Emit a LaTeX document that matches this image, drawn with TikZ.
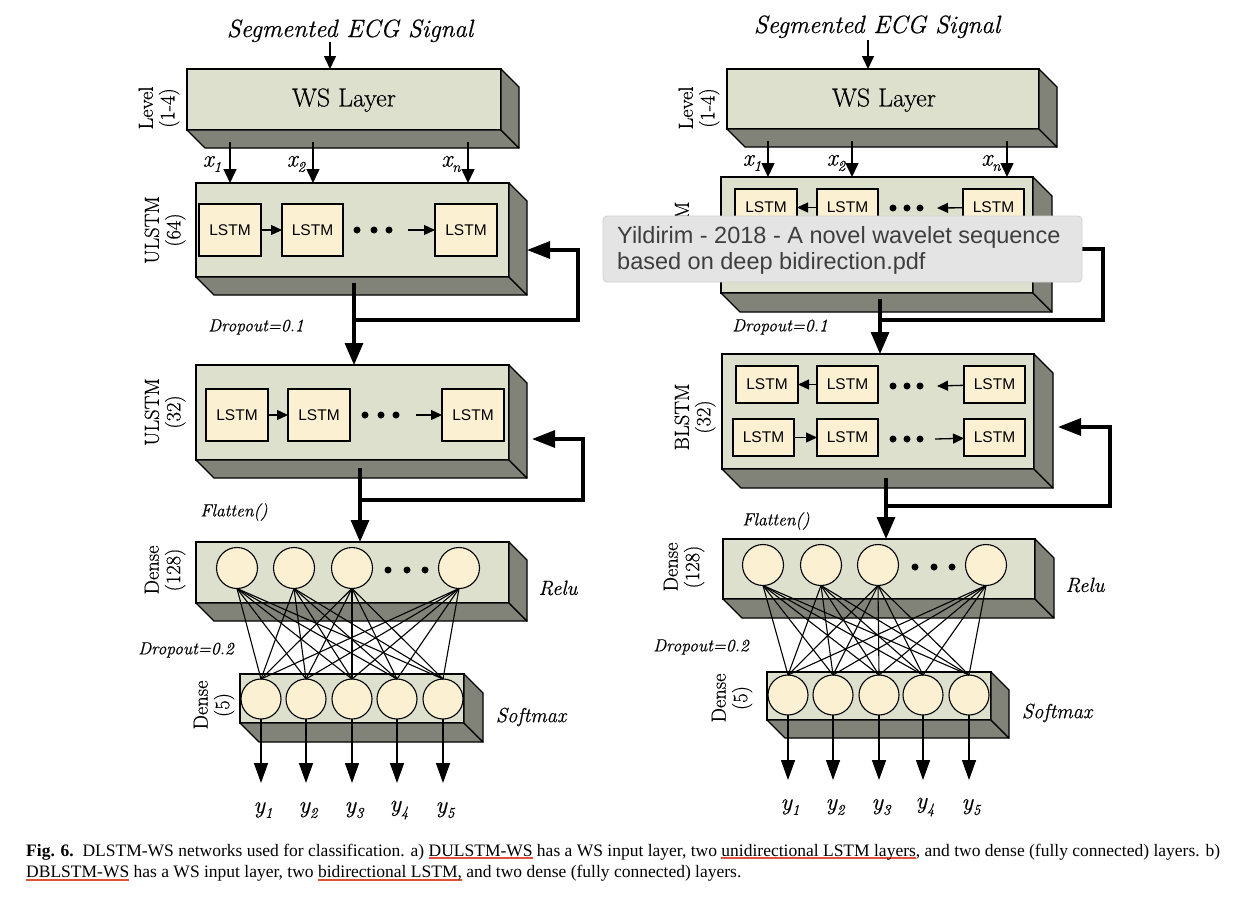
\documentclass[tikz,border=0pt]{standalone}
\usepackage{fontspec}
\setmainfont{Latin Modern Roman}[FakeBold=0.45]
\usetikzlibrary{arrows.meta,calc}
\newfontfamily\sansf{Liberation Sans}
\newfontfamily\capf{Liberation Serif}
\definecolor{frontc}{HTML}{DDE0CC}
\definecolor{sidec}{HTML}{818278}
\definecolor{cream}{HTML}{FCF0D2}
\definecolor{tipfill}{HTML}{E4E4E4}
\definecolor{tipdraw}{HTML}{D2D2D2}
\definecolor{tiptext}{HTML}{3E3E3E}
\definecolor{ulred}{HTML}{E0503C}
\newcommand\ttlf{\itshape\fontsize{25}{30}\selectfont}
\newcommand\bigf{\fontsize{26}{30}\selectfont}
\newcommand\rotf{\fontsize{20.5}{21.5}\selectfont}
\newcommand\itf{\itshape\fontsize{17.5}{20}\selectfont}
\newcommand\actf{\itshape\fontsize{20.5}{24}\selectfont}
\newcommand\xlf{\itshape\fontsize{24}{28}\selectfont}
\newcommand\lstmf{\sansf\fontsize{15.5}{18}\selectfont}
\newcommand\capfs{\capf\fontsize{17.5}{21}\selectfont}
\newcommand\tipf{\sansf\fontsize{23.5}{26}\selectfont}
\newcommand\sbs[1]{\raisebox{-0.22em}{\fontsize{15}{15}\selectfont #1}}
\newcommand\redul[1]{\setbox0=\hbox{#1}\rlap{\textcolor{ulred}{\rule[-3.2pt]{\wd0}{2pt}}}\box0\relax}
\newcommand\layerbox[6]{%
  \node[front, minimum width={#4-#2}, minimum height={#5-#3}] (#1) at ({(#2+#4)/2},{(#3+#5)/2}) {};
  \draw[side] (#1.south west) -- (#1.south east) -- ++(#6,#6) -- ($(#1.south west)+(#6,#6)$) -- cycle;
  \draw[side] (#1.north east) -- ++(#6,#6) -- ($(#1.south east)+(#6,#6)$) -- (#1.south east) -- cycle;
}
\newcommand\lstmbox[5]{%
  \node[lstm, minimum width={#4-#2}, minimum height={#5-#3}] (#1) at ({(#2+#4)/2},{(#3+#5)/2}) {LSTM};
}
\tikzset{
  front/.style={rectangle, draw=black, line width=1.3pt, fill=frontc, inner sep=0pt, outer sep=0pt},
  side/.style={draw=black, line width=1.3pt, fill=sidec, line join=round},
  lstm/.style={rectangle, draw=black, line width=1.1pt, fill=cream, inner sep=0pt, outer sep=0pt, font=\lstmf},
  neuron/.style={circle, draw=black, line width=1.1pt, fill=cream, minimum size=41pt, inner sep=0pt, outer sep=0pt},
  dotn/.style={circle, fill=black, minimum size=7pt, inner sep=0pt},
  inarr/.style={line width=1.5pt, -{Triangle[length=13pt,width=12pt]}},
  xarr/.style={line width=1.5pt, -{Triangle[length=14pt,width=13pt]}},
  sarr/.style={line width=1.3pt, -{Triangle[length=11pt,width=10pt]}},
  fbarr/.style={line width=3.2pt, -{Triangle[length=22pt,width=18pt]}},
  fbline/.style={line width=3.2pt, line join=miter, -{Triangle[length=23pt,width=17pt]}},
  outarr/.style={line width=1.5pt, -{Triangle[length=20pt,width=14pt]}},
  conn/.style={line width=1.1pt},
  ttl/.style={font=\ttlf, inner sep=0pt},
  big/.style={font=\bigf, inner sep=0pt},
  rotlab/.style={font=\rotf, rotate=90, align=center, inner sep=0pt},
  itl/.style={font=\itf, inner sep=0pt},
  act/.style={font=\actf, inner sep=0pt},
  xl/.style={font=\xlf, inner sep=0pt},
  captext/.style={font=\capfs, inner sep=0pt, anchor=base west},
  tipbox/.style={rectangle, draw=tipdraw, line width=0.8pt, fill=tipfill, rounded corners=4pt, inner sep=0pt},
  tiptxt/.style={font=\tipf, text=tiptext, inner sep=0pt, anchor=base west}
}
\begin{document}
\begin{tikzpicture}[x=1pt,y=-1pt]
\fill[white] (0,0) rectangle (1246,900);
\useasboundingbox (0,0) rectangle (1246,900);

% ================= LEFT COLUMN =================
\node[ttl, anchor=base] (Lt) at (350,37) {Segmented ECG Signal};
\layerbox{LWS}{187}{69}{501}{130}{18}
\node[big] (LWSt) at (344,100) {WS Layer};
\coordinate (Lts) at (330,42);
\draw[inarr] (Lts) -- (Lts |- LWS.north);
\node[rotlab] (Llev) at (159,108) {Level\\(1-4)};

\layerbox{LU1}{196}{183}{509}{277}{18}
\foreach \x/\n in {230/1,313/2,468/3}{
  \coordinate (Lxs\n) at (\x,142);
  \draw[xarr] (Lxs\n) -- (Lxs\n |- LU1.north);
}
\node[xl] (Lxl1) at (212,164) {x\sbs{1}};
\node[xl] (Lxl2) at (296,164) {x\sbs{2}};
\node[xl] (Lxl3) at (451,164) {x\sbs{n}};
\lstmbox{La1}{199}{204}{261}{256}
\lstmbox{La2}{282}{204}{343}{256}
\lstmbox{La3}{435}{204}{497}{256}
\draw[sarr] (La1) -- (La2);
\node[dotn] (Lad1) at (357,230) {};
\node[dotn] (Lad2) at (374,230) {};
\node[dotn] (Lad3) at (389,230) {};
\coordinate (Laf) at (408,230);
\draw[sarr] (Laf) -- (La3);
\node[rotlab] (Lu1l) at (165,230) {ULSTM\\(64)};

\layerbox{LU2}{196}{365}{509}{460}{18}
\coordinate (Lf1s) at (354,283);
\draw[fbarr] (Lf1s) -- (Lf1s |- LU2.north);
\coordinate (Lf1a) at (354,320);
\coordinate (Lf1b) at (578,320);
\coordinate (Lf1c) at (578,250);
\coordinate (Lf1e) at (527,250);
\draw[fbline] (Lf1a) -- (Lf1b) -- (Lf1c) -- (Lf1e);
\node[itl] (Ldr1) at (256,327) {Dropout=0.1};

\lstmbox{Lb1}{206}{389}{268}{441}
\lstmbox{Lb2}{288}{389}{350}{441}
\lstmbox{Lb3}{442}{389}{504}{441}
\draw[sarr] (Lb1) -- (Lb2);
\node[dotn] (Lbd1) at (365,415) {};
\node[dotn] (Lbd2) at (381,415) {};
\node[dotn] (Lbd3) at (396,415) {};
\coordinate (Lbf) at (416,415);
\draw[sarr] (Lbf) -- (Lb3);
\node[rotlab] (Lu2l) at (165,412) {ULSTM\\(32)};

\layerbox{LD1}{196}{542}{509}{603}{18}
\coordinate (Lf2s) at (360,468);
\draw[fbarr] (Lf2s) -- (Lf2s |- LD1.north);
\coordinate (Lf2a) at (360,500);
\coordinate (Lf2b) at (583,500);
\coordinate (Lf2c) at (583,439);
\coordinate (Lf2e) at (532,439);
\draw[fbline] (Lf2a) -- (Lf2b) -- (Lf2c) -- (Lf2e);
\node[itl] (Lfl) at (234,512) {Flatten()};

\node[neuron] (Ln1) at (237,568) {};
\node[neuron] (Ln2) at (294,568) {};
\node[neuron] (Ln3) at (352,568) {};
\node[neuron] (Ln4) at (459,568) {};
\node[dotn] (Lnd1) at (388,570) {};
\node[dotn] (Lnd2) at (407,570) {};
\node[dotn] (Lnd3) at (425,570) {};
\node[rotlab] (Ld1l) at (165,570) {Dense\\(128)};
\node[act] (Lrelu) at (558,588) {Relu};

\layerbox{LD2}{240}{674}{464}{723}{19}
\foreach \j/\x in {1/261,2/306,3/352,4/397,5/443}{
  \node[neuron, minimum size=40pt] (Lm\j) at (\x,699) {};
}
\foreach \i in {1,...,4}{\foreach \j in {1,...,5}{\draw[conn] (Ln\i.south) -- (Lm\j.north);}}
\foreach \j/\x in {1/261,2/306,3/352,4/397,5/443}{
  \coordinate (Lo\j) at (\x,783);
  \draw[outarr] (Lm\j.south) -- (Lo\j);
  \node[xl] (Ly\j) at (\x+2,810) {y\sbs{\j}};
}
\node[rotlab] (Ld2l) at (214,705) {Dense\\(5)};
\node[act] (Lsm) at (531,717) {Softmax};
\node[itl] (Ldr2) at (186,650) {Dropout=0.2};

% ================= RIGHT COLUMN =================
\node[ttl, anchor=base] (Rt) at (877,33) {Segmented ECG Signal};
\layerbox{RWS}{727}{69}{1039}{129}{18}
\node[big] (RWSt) at (884,100) {WS Layer};
\coordinate (Rts) at (868,40);
\draw[inarr] (Rts) -- (Rts |- RWS.north);
\node[rotlab] (Rlev) at (699,108) {Level\\(1-4)};

\layerbox{RB1}{721}{177}{1033}{293}{19}
\foreach \x/\n in {768/1,852/2,1007/3}{
  \coordinate (Rxs\n) at (\x,141);
  \draw[xarr] (Rxs\n) -- (Rxs\n |- RB1.north);
}
\node[xl] (Rxl1) at (752,163) {x\sbs{1}};
\node[xl] (Rxl2) at (836,163) {x\sbs{2}};
\node[xl] (Rxl3) at (991,163) {x\sbs{n}};
\lstmbox{Rp1}{735}{189}{797}{226}
\lstmbox{Rp2}{817}{189}{878}{226}
\lstmbox{Rp3}{963}{189}{1024}{226}
\draw[sarr] (Rp2) -- (Rp1);
\node[dotn] (Rpd1) at (893,208) {};
\node[dotn] (Rpd2) at (907,208) {};
\node[dotn] (Rpd3) at (920,208) {};
\coordinate (Rpf) at (937,208);
\draw[sarr] (Rp3) -- (Rpf);
\node[rotlab] (Rb1l) at (695,235) {BLSTM\\(64)};

\layerbox{RB2}{722}{354}{1034}{469}{19}
\coordinate (Rf1s) at (880,299);
\draw[fbarr] (Rf1s) -- (Rf1s |- RB2.north);
\coordinate (Rf1a) at (880,320);
\coordinate (Rf1b) at (1103,320);
\coordinate (Rf1c) at (1103,249);
\coordinate (Rf1e) at (1052,249);
\draw[fbline] (Rf1a) -- (Rf1b) -- (Rf1c) -- (Rf1e);
\node[itl] (Rdr1) at (780,327) {Dropout=0.1};

\lstmbox{Rr1}{736}{366}{798}{403}
\lstmbox{Rr2}{817}{366}{878}{403}
\lstmbox{Rr3}{964}{366}{1025}{403}
\draw[sarr] (Rr2) -- (Rr1);
\node[dotn] (Rrd1) at (893,386) {};
\node[dotn] (Rrd2) at (907,386) {};
\node[dotn] (Rrd3) at (920,386) {};
\coordinate (Rrf) at (937,386);
\draw[sarr] (Rr3) -- (Rrf);
\lstmbox{Rs1}{733}{419}{794}{456}
\lstmbox{Rs2}{817}{419}{878}{456}
\lstmbox{Rs3}{964}{419}{1025}{456}
\draw[sarr] (Rs1) -- (Rs2);
\node[dotn] (Rsd1) at (893,439) {};
\node[dotn] (Rsd2) at (907,439) {};
\node[dotn] (Rsd3) at (920,439) {};
\coordinate (Rsf) at (935,439);
\draw[sarr] (Rsf) -- (Rs3);
\node[rotlab] (Rb2l) at (695,417) {BLSTM\\(32)};

\layerbox{RD1}{723}{539}{1035}{599}{19}
\coordinate (Rf2s) at (886,478);
\draw[fbarr] (Rf2s) -- (Rf2s |- RD1.north);
\coordinate (Rf2a) at (886,506);
\coordinate (Rf2b) at (1110,506);
\coordinate (Rf2c) at (1110,427);
\coordinate (Rf2e) at (1058,427);
\draw[fbline] (Rf2a) -- (Rf2b) -- (Rf2c) -- (Rf2e);
\node[itl] (Rfl) at (776,521) {Flatten()};

\node[neuron] (Rn1) at (763,565) {};
\node[neuron] (Rn2) at (821,565) {};
\node[neuron] (Rn3) at (878,565) {};
\node[neuron] (Rn4) at (986,565) {};
\node[dotn] (Rnd1) at (915,567) {};
\node[dotn] (Rnd2) at (934,567) {};
\node[dotn] (Rnd3) at (952,567) {};
\node[rotlab] (Rd1l) at (684,567) {Dense\\(128)};
\node[act] (Rrelu) at (1085,585) {Relu};

\layerbox{RD2}{767}{672}{991}{720}{18}
\foreach \j/\x in {1/788,2/833,3/879,4/923,5/969}{
  \node[neuron, minimum size=40pt] (Rm\j) at (\x,695) {};
}
\foreach \i in {1,...,4}{\foreach \j in {1,...,5}{\draw[conn] (Rn\i.south) -- (Rm\j.north);}}
\foreach \j/\x in {1/788,2/833,3/879,4/923,5/969}{
  \coordinate (Ro\j) at (\x,780);
  \draw[outarr] (Rm\j.south) -- (Ro\j);
  \node[xl] (Ry\j) at (\x+2,807) {y\sbs{\j}};
}
\node[rotlab] (Rd2l) at (732,698) {Dense\\(5)};
\node[act] (Rsm) at (1057,713) {Softmax};
\node[itl] (Rdr2) at (701,647) {Dropout=0.2};

% ================= TOOLTIP =================
\node[tipbox, minimum width=479pt, minimum height=66pt] (tipb) at (842.5,249) {};
\node[tiptxt] (tip1) at (617,243) {Yildirim - 2018 - A novel wavelet sequence};
\node[tiptxt] (tip2) at (617,269) {based on deep bidirection.pdf};

% ================= CAPTION =================
\node[captext] (cap1) at (26,856) {\textbf{Fig. 6.}\hspace{0.5em}DLSTM-WS networks used for classification. a) \redul{DULSTM-WS} has a WS input layer, two \redul{unidirectional LSTM layers}, and two dense (fully connected) layers. b)};
\node[captext] (cap2) at (26,877.5) {\redul{DBLSTM-WS} has a WS input layer, two \redul{bidirectional LSTM,} and two dense (fully connected) layers.};
\end{tikzpicture}
\end{document}
